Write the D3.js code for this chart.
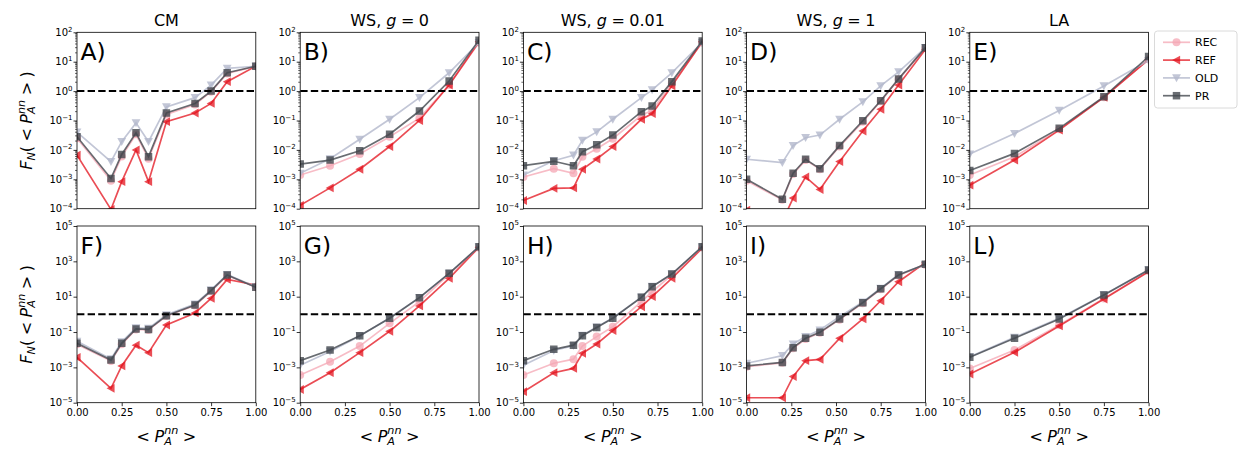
<!DOCTYPE html>
<html>
<head>
<meta charset="utf-8">
<script src="https://cdn.jsdelivr.net/npm/d3@7"></script>
<style>
  body { margin: 0; background: #fff; }
  text { font-family: "DejaVu Sans", sans-serif; fill: #000; }
</style>
</head>
<body>
<svg id="chart" width="1238" height="452"></svg>
<script>
// ---- data -------------------------------------------------------------
const seriesNames = ["REC", "REF", "OLD", "PR"];
const columnTitles = ["CM", "WS0", "WS001", "WS1", "LA"];
const topLetters = ["A)", "B)", "C)", "D)", "E)"];
const bottomLetters = ["F)", "G)", "H)", "I)", "L)"];

const xTicks = [0, 0.25, 0.5, 0.75, 1.0];
const xTickLabels = ["0.00", "0.25", "0.50", "0.75", "1.00"];
const topExponents = [-4, -3, -2, -1, 0, 1, 2];
const bottomExponents = [-5, -3, -1, 1, 3, 5];

const xCM    = [0, 0.19, 0.25, 0.33, 0.40, 0.50, 0.66, 0.75, 0.84, 1.0];
const xWS0   = [0, 0.167, 0.333, 0.5, 0.667, 0.833, 1.0];
const xWS001 = [0, 0.17, 0.28, 0.33, 0.41, 0.50, 0.66, 0.72, 0.83, 1.0];
const xWS1   = [0, 0.20, 0.26, 0.33, 0.41, 0.52, 0.65, 0.75, 0.85, 1.0];
const xLA    = [0, 0.25, 0.5, 0.75, 1.0];

// first row: F_N for the first observable
const panelA = {
  REC: [0.025, 0.0009, 0.006, 0.034, 0.005, 0.16, 0.35, 0.95, 4.0, 7.0],
  REF: [0.0066, 0.000095, 0.00083, 0.010, 0.00083, 0.091, 0.18, 0.38, 2.1, 7.0],
  OLD: [0.040, 0.0040, 0.019, 0.083, 0.019, 0.29, 0.60, 1.6, 5.9, 7.0],
  PR:  [0.028, 0.00107, 0.0070, 0.038, 0.0059, 0.18, 0.38, 1.0, 4.2, 7.0]
};
const panelB = {
  REC: [0.0014, 0.0029, 0.0072, 0.028, 0.12, 1.6, 45],
  REF: [0.00013, 0.00051, 0.0022, 0.013, 0.10, 1.6, 48],
  OLD: [0.0016, 0.0050, 0.023, 0.11, 0.60, 4.2, 45],
  PR:  [0.0033, 0.0045, 0.0093, 0.034, 0.21, 2.2, 54]
};
const panelC = {
  REC: [0.0012, 0.0023, 0.0016, 0.0058, 0.011, 0.024, 0.15, 0.22, 1.8, 45],
  REF: [0.00019, 0.00049, 0.00051, 0.0022, 0.0049, 0.013, 0.11, 0.17, 1.5, 48],
  OLD: [0.0014, 0.0043, 0.0066, 0.021, 0.041, 0.11, 0.60, 1.1, 4.2, 45],
  PR:  [0.0029, 0.0041, 0.0029, 0.0087, 0.015, 0.032, 0.20, 0.31, 2.1, 51]
};
const panelD = {
  REC: [0.0009, 0.0002, 0.0015, 0.0045, 0.0022, 0.013, 0.09, 0.45, 2.5, 29],
  REF: [0.00009, 0.000037, 0.00023, 0.0012, 0.00045, 0.0040, 0.044, 0.24, 1.6, 26],
  OLD: [0.0048, 0.0037, 0.014, 0.026, 0.032, 0.11, 0.43, 1.5, 4.5, 30],
  PR:  [0.0010, 0.00021, 0.0016, 0.0048, 0.0023, 0.014, 0.098, 0.47, 2.6, 30]
};
const panelE = {
  REC: [0.0014, 0.0058, 0.050, 0.62, 12],
  REF: [0.00063, 0.0045, 0.047, 0.61, 12],
  OLD: [0.0072, 0.036, 0.22, 1.5, 11],
  PR:  [0.0020, 0.0076, 0.054, 0.64, 15]
};
// second row: F_N for the second observable
const panelF = {
  REC: [0.020, 0.0023, 0.020, 0.14, 0.13, 0.80, 3.2, 20, 160, 34],
  REF: [0.0037, 0.000065, 0.0012, 0.018, 0.0068, 0.25, 1.2, 8.0, 95, 46],
  OLD: [0.030, 0.0030, 0.028, 0.17, 0.16, 0.95, 3.8, 24, 180, 36],
  PR:  [0.023, 0.0026, 0.023, 0.15, 0.14, 0.84, 3.4, 22, 170, 34]
};
const panelG = {
  REC: [0.00037, 0.0021, 0.016, 0.31, 5.2, 190, 6000],
  REF: [0.000056, 0.0005, 0.0068, 0.11, 3.0, 110, 6300],
  OLD: [0.0013, 0.008, 0.060, 0.62, 9.0, 210, 6500],
  PR:  [0.0024, 0.0096, 0.062, 0.60, 8.8, 210, 6800]
};
const panelH = {
  REC: [0.00037, 0.0017, 0.0029, 0.016, 0.055, 0.20, 5.2, 19, 170, 6000],
  REF: [0.000042, 0.0005, 0.00087, 0.0062, 0.021, 0.12, 2.7, 10, 110, 5500],
  OLD: [0.0013, 0.009, 0.017, 0.065, 0.19, 0.62, 9.5, 38, 190, 6500],
  PR:  [0.0024, 0.0105, 0.018, 0.062, 0.18, 0.60, 9.2, 37, 190, 6800]
};
const panelI = {
  REC: [0.0011, 0.0018, 0.012, 0.040, 0.09, 0.50, 4.3, 26, 160, 650],
  REF: [0.000019, 0.000019, 0.0003, 0.0024, 0.0028, 0.044, 0.55, 5.9, 70, 840],
  OLD: [0.0017, 0.0046, 0.021, 0.055, 0.13, 0.74, 5.0, 30, 180, 650],
  PR:  [0.0012, 0.0019, 0.013, 0.044, 0.096, 0.55, 4.6, 28, 170, 680]
};
const panelL = {
  REC: [0.00087, 0.0095, 0.25, 8.0, 280],
  REF: [0.00042, 0.0071, 0.22, 7.4, 260],
  OLD: [0.0040, 0.050, 0.60, 13, 330],
  PR:  [0.0037, 0.044, 0.55, 12.4, 320]
};

const topPanels = [panelA, panelB, panelC, panelD, panelE];
const bottomPanels = [panelF, panelG, panelH, panelI, panelL];
const columnX = [xCM, xWS0, xWS001, xWS1, xLA];

// ---- styling ----------------------------------------------------------
const style = {
  REC: { color: "#f4a6b3", opacity: 0.75, marker: "circle" },
  REF: { color: "#e3121c", opacity: 0.75, marker: "left" },
  OLD: { color: "#b3b8cc", opacity: 0.8, marker: "down" },
  PR:  { color: "#44494f", opacity: 0.8, marker: "square" }
};

const svg = d3.select("#chart");
const W = 178.8;
const colLeft = i => 77 + i * 223.2;
const rows = [
  { top: 32.3, bottom: 208.7, domain: [1e-4, 1e2], exps: topExponents, minor: true },
  { top: 226, bottom: 402.7, domain: [1e-5, 1e5], exps: bottomExponents, minor: false }
];

// width of a string at a given size / style
const probe = svg.append("text").attr("x", -1000).attr("y", -1000);
function measure(str, fs, italic) {
  probe.style("font-size", fs + "px").style("font-style", italic ? "italic" : "normal").text(str);
  return probe.node().getComputedTextLength();
}

// lays out mathtext-like pieces as tspans of one <text>; anchor: start|middle|end
function mathText(parent, runs, size, anchor) {
  const pieces = [];
  let x = 0;
  runs.forEach(r => {
    if (r.stack) {
      const fs = size * 0.7;
      const wa = measure(r.stack[0], fs, true), wb = measure(r.stack[1], fs, true);
      pieces.push({ t: r.stack[0], x, y: -size * 0.44, fs, it: true });
      pieces.push({ t: r.stack[1], x, y: size * 0.19, fs, it: true });
      x += Math.max(wa, wb);
    } else {
      x += (r.pre || 0) * size;
      const fs = size * (r.s || 1);
      pieces.push({ t: r.t, x, y: -(r.sh || 0) * size, fs, it: !!r.it });
      x += measure(r.t, fs, r.it) + (r.post || 0) * size;
    }
  });
  const off = anchor === "middle" ? -x / 2 : anchor === "end" ? -x : 0;
  const t = parent.append("text");
  pieces.forEach(p => {
    t.append("tspan").attr("x", p.x + off).attr("y", p.y)
      .style("font-size", p.fs + "px").style("font-style", p.it ? "italic" : "normal").text(p.t);
  });
  return t;
}

const pnnCore = [{ t: "P", it: true }, { stack: ["nn", "A"] }];
const xLabelRuns = [{ t: "<", post: 0.28 }, ...pnnCore, { t: ">", pre: 0.28 }];
const yLabelRuns = [
  { t: "F", it: true },
  { t: "N", it: true, s: 0.7, sh: -0.2 },
  { t: "(" },
  { t: "<", pre: 0.28, post: 0.28 },
  ...pnnCore,
  { t: ">", pre: 0.28, post: 0.28 },
  { t: ")" }
];

function titleRuns(key) {
  if (key === "CM") return [{ t: "CM" }];
  if (key === "LA") return [{ t: "LA" }];
  const val = key === "WS0" ? "0" : key === "WS001" ? "0.01" : "1";
  return [{ t: "WS,", post: 0.32 }, { t: "g", it: true }, { t: "=", pre: 0.28, post: 0.28 }, { t: val }];
}

function markerPath(kind, size) {
  const h = size / 2;
  if (kind === "square") return `M${-h},${-h}H${h}V${h}H${-h}Z`;
  if (kind === "left") return `M${-h * 1.1},0L${h * 0.9},${-h * 1.1}L${h * 0.9},${h * 1.1}Z`;
  if (kind === "down") return `M${-h * 1.1},${-h * 0.9}L${h * 1.1},${-h * 0.9}L0,${h * 1.1}Z`;
  return d3.symbol(d3.symbolCircle, Math.PI * h * h)();
}

let clipId = 0;
function drawPanel(col, rowIdx, data, letter) {
  const row = rows[rowIdx];
  const left = colLeft(col);
  const x = d3.scaleLinear().domain([0, 1]).range([left, left + W]);
  const y = d3.scaleLog().domain(row.domain).range([row.bottom, row.top]);
  const g = svg.append("g");
  const id = "clip" + (clipId++);
  g.append("clipPath").attr("id", id).append("rect")
    .attr("x", left).attr("y", row.top).attr("width", W).attr("height", row.bottom - row.top);

  const plot = g.append("g").attr("clip-path", `url(#${id})`);
  const xs = columnX[col];
  seriesNames.forEach(name => {
    const st = style[name];
    const pts = xs.map((xv, i) => [xv, data[name][i]]);
    plot.append("path")
      .attr("d", d3.line().x(d => x(d[0])).y(d => y(d[1]))(pts))
      .attr("fill", "none").attr("stroke", st.color).attr("stroke-width", 1.7)
      .attr("stroke-opacity", st.opacity);
    plot.selectAll(null).data(pts).enter().append("path")
      .attr("transform", d => `translate(${x(d[0])},${y(d[1])})`)
      .attr("d", markerPath(st.marker, st.marker === "square" ? 7.5 : 8))
      .attr("fill", st.color).attr("fill-opacity", st.opacity);
  });
  // reference level F_N = 1
  plot.append("line")
    .attr("x1", left).attr("x2", left + W).attr("y1", y(1)).attr("y2", y(1))
    .attr("stroke", "#000").attr("stroke-width", 2).attr("stroke-dasharray", "7.4,3.2");

  // y axis ticks
  const yAxis = d3.axisLeft(y).tickValues(row.exps.map(e => Math.pow(10, e)))
    .tickSize(3.5).tickSizeOuter(0).tickFormat("");
  const ya = g.append("g").attr("transform", `translate(${left},0)`).call(yAxis);
  ya.select(".domain").remove();
  ya.selectAll(".tick line").attr("stroke-width", 0.8);
  if (row.minor) {
    const minors = [];
    for (let e = row.exps[0]; e < row.exps[row.exps.length - 1]; e++)
      for (let k = 2; k <= 9; k++) minors.push(k * Math.pow(10, e));
    g.selectAll(null).data(minors).enter().append("line")
      .attr("x1", left - 2).attr("x2", left).attr("y1", d => y(d)).attr("y2", d => y(d))
      .attr("stroke", "#000").attr("stroke-width", 0.6);
  }
  row.exps.forEach(e => {
    const exp = (e < 0 ? "\u2212" : "") + Math.abs(e);
    mathText(g, [{ t: "10" }, { t: exp, s: 0.7, sh: 0.42 }], 10, "end")
      .attr("transform", `translate(${left - 4.5},${y(Math.pow(10, e)) + 3.6})`);
  });

  // x axis ticks only on the lower row
  if (rowIdx === 1) {
    const xAxis = d3.axisBottom(x).tickValues(xTicks).tickSize(3.5).tickSizeOuter(0)
      .tickFormat((d, i) => xTickLabels[i]);
    const xa = g.append("g").attr("transform", `translate(0,${row.bottom})`).call(xAxis);
    xa.select(".domain").remove();
    xa.selectAll(".tick line").attr("stroke-width", 0.8);
    xa.selectAll(".tick text").attr("y", 6).attr("dy", "0.71em")
      .style("font-size", "10px").style("font-family", "DejaVu Sans");
    mathText(g, xLabelRuns, 16, "middle")
      .attr("transform", `translate(${left + W / 2},${441.5})`);
  }

  // frame
  g.append("rect").attr("x", left).attr("y", row.top).attr("width", W)
    .attr("height", row.bottom - row.top).attr("fill", "none")
    .attr("stroke", "#000").attr("stroke-width", 0.8);

  g.append("text").attr("x", left + 3.5).attr("y", row.top + 27.5)
    .style("font-size", "23.5px").text(letter);

  if (rowIdx === 0) {
    mathText(g, titleRuns(columnTitles[col]), 16, "middle")
      .attr("transform", `translate(${left + W / 2},${25.5})`);
  }
}

topPanels.forEach((p, i) => drawPanel(i, 0, p, topLetters[i]));
bottomPanels.forEach((p, i) => drawPanel(i, 1, p, bottomLetters[i]));

// y labels
rows.forEach(row => {
  const t = mathText(svg, yLabelRuns, 16, "middle");
  t.attr("transform", `translate(32,${(row.top + row.bottom) / 2}) rotate(-90)`);
});
probe.remove();

// legend
const legend = svg.append("g");
legend.append("rect").attr("x", 1154.5).attr("y", 31).attr("width", 82.5).attr("height", 77)
  .attr("rx", 3).attr("fill", "#fff").attr("stroke", "#d6d6d6").attr("stroke-width", 0.9);
seriesNames.forEach((name, i) => {
  const st = style[name];
  const yy = 42.3 + i * 17.8;
  legend.append("line").attr("x1", 1163).attr("x2", 1190).attr("y1", yy).attr("y2", yy)
    .attr("stroke", st.color).attr("stroke-width", 1.7).attr("stroke-opacity", st.opacity);
  legend.append("path").attr("transform", `translate(1176.5,${yy})`)
    .attr("d", markerPath(st.marker, st.marker === "square" ? 7.5 : 8))
    .attr("fill", st.color).attr("fill-opacity", st.opacity);
  legend.append("text").attr("x", 1195).attr("y", yy + 4).style("font-size", "11px").text(name);
});
</script>
</body>
</html>
